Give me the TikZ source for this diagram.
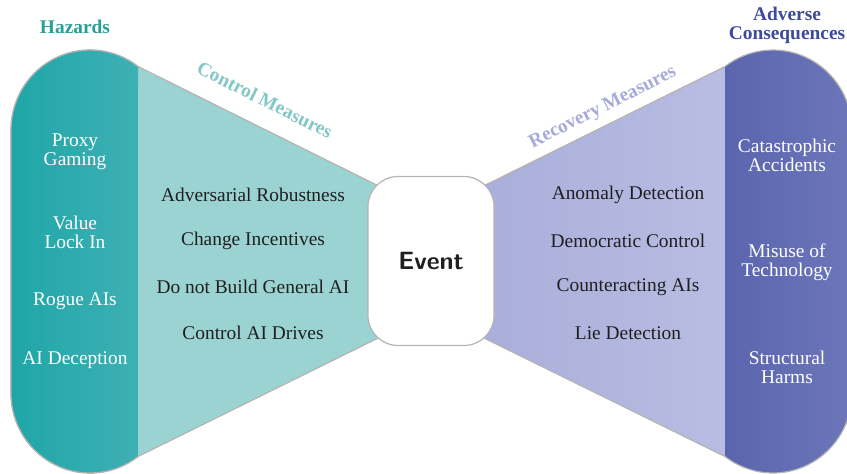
\documentclass[tikz,border=0pt]{standalone}
\usepackage{fontspec}
\setmainfont{Liberation Serif}
\usetikzlibrary{positioning}

\definecolor{hazdark}{HTML}{1FA6A7}
\definecolor{hazdarkR}{HTML}{3EB0B4}
\definecolor{ctrllight}{HTML}{9BD3D3}
\definecolor{reclight}{HTML}{A6ABD9}
\definecolor{reclightR}{HTML}{B9BDE2}
\definecolor{consdark}{HTML}{5A65AE}
\definecolor{consdarkR}{HTML}{6D76B9}
\definecolor{hazhead}{HTML}{2A9F96}
\definecolor{conshead}{HTML}{3E4A9B}
\definecolor{edgegray}{HTML}{B4B4B4}

\tikzset{
  itemtxt/.style={font=\fontsize{9.7}{9.5}\selectfont, align=center, inner sep=0pt},
  sidetxt/.style={itemtxt, text=white},
  midtxt/.style={itemtxt, text=black!88},
  headtxt/.style={itemtxt, font=\fontsize{9.7}{9.5}\selectfont\bfseries},
  eventbox/.style={draw=edgegray, line width=0.6pt, fill=white, rounded corners=15pt,
    minimum width=63pt, minimum height=84.5pt, text=black!88,
    font=\sffamily\bfseries\fontsize{12.5}{14}\selectfont},
}

\begin{document}
\begin{tikzpicture}[x=0.5pt, y=-0.5pt]
\useasboundingbox (0,0) rectangle (847,474);
\clip (0,0) rectangle (847,474);

% left wing: hazards and control measures
\filldraw[fill=ctrllight, draw=edgegray, line width=0.6pt]
  (431,212) -- (138,66.5) arc[start angle=-52.6, end angle=-180, x radius=79, y radius=80]
  -- (11,393) arc[start angle=180, end angle=52.6, x radius=79, y radius=80]
  -- (431,312) -- cycle;
\shade[left color=hazdark, right color=hazdarkR]
  (138,66.5) arc[start angle=-52.6, end angle=-180, x radius=79, y radius=80]
  -- (11,393) arc[start angle=180, end angle=52.6, x radius=79, y radius=80] -- cycle;
\draw[edgegray, line width=0.6pt]
  (138,66.5) arc[start angle=-52.6, end angle=-180, x radius=79, y radius=80]
  -- (11,393) arc[start angle=180, end angle=52.6, x radius=79, y radius=80];

% right wing: recovery measures and consequences
\shade[left color=reclight, right color=reclightR]
  (431,212) -- (725,66.5) -- (725,456.5) -- (431,312) -- cycle;
\shade[left color=consdark, right color=consdarkR]
  (725,66.5) arc[start angle=-127.4, end angle=0, x radius=79, y radius=80]
  -- (852,393) arc[start angle=0, end angle=127.4, x radius=79, y radius=80] -- cycle;
\draw[edgegray, line width=0.6pt]
  (431,212) -- (725,66.5) arc[start angle=-127.4, end angle=0, x radius=79, y radius=80]
  -- (852,393) arc[start angle=0, end angle=127.4, x radius=79, y radius=80]
  -- (431,312);

% centre
\node[eventbox] (event) at (431,261) {Event};

% headings
\node[headtxt, text=hazhead] (hazards) at (75,27) {Hazards};
\node[headtxt, text=conshead] (adverse) at (787,25) {Adverse\\Consequences};
\node[headtxt, text=ctrllight!85!teal, rotate=-26.6] (control) at (265,100) {Control Measures};
\node[headtxt, text=reclight, rotate=26.6] (recovery) at (603,108) {Recovery Measures};

% hazards
\node[sidetxt] (proxy) at (75,152) {Proxy\\Gaming};
\node[sidetxt] (lockin) at (75,232) {Value\\Lock In};
\node[sidetxt] (rogue) at (75,301) {Rogue AIs};
\node[sidetxt] (deception) at (75,360) {AI Deception};

% control measures
\node[midtxt] (robust) at (253,195) {Adversarial Robustness};
\node[midtxt, on grid, below=23pt of robust] (incent) {Change Incentives};
\node[midtxt, on grid, below=23pt of incent] (nogeneral) {Do not Build General AI};
\node[midtxt, on grid, below=23pt of nogeneral] (drives) {Control AI Drives};

% recovery measures
\node[midtxt] (anomaly) at (628,195) {Anomaly Detection};
\node[midtxt, on grid, below=23pt of anomaly] (democ) {Democratic Control};
\node[midtxt, on grid, below=23pt of democ] (counter) {Counteracting AIs};
\node[midtxt, on grid, below=23pt of counter] (lie) {Lie Detection};

% consequences
\node[sidetxt] (accid) at (787,155) {Catastrophic\\Accidents};
\node[sidetxt] (misuse) at (787,262) {Misuse of\\Technology};
\node[sidetxt] (harms) at (787,367) {Structural\\Harms};
\end{tikzpicture}
\end{document}
